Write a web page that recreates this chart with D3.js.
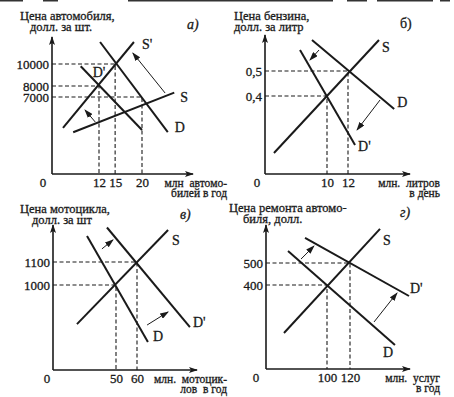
<!DOCTYPE html>
<html>
<head>
<meta charset="utf-8">
<script src="https://cdn.jsdelivr.net/npm/d3@7"></script>
<style>
  body { margin: 0; background: #fff; }
  text { font-family: "Liberation Serif", serif; fill: #1a1a1a; stroke: #1a1a1a; stroke-width: 0.3px; }
  .title { font-size: 12.5px; }
  .xlab { font-size: 11.5px; }
</style>
</head>
<body>
<div id="chart"></div>
<script>
// а) автомобили
var aPriceTicks = [7000, 8000, 10000];
var aQtyTicks = [12, 15, 20];
var aGuides = [[12, 8000], [15, 10000], [20, 7000]];
var aCurves = [
  { name: "S'", from: [5.3, 4200], to: [18.5, 12000] },
  { name: "S", from: [7.2, 3800], to: [26, 7400] },
  { name: "D", from: [12.2, 12000], to: [24.8, 3800] },
  { name: "D'", from: [8.6, 9800], to: [20, 4000] }
];
var aShifts = [[[24.3, 7360], [18.3, 11000]], [[11.3, 4730], [9.4, 5820]]];

// б) бензин
var bPriceTicks = [0.4, 0.5];
var bQtyTicks = [10, 12];
var bGuides = [[10, 0.4], [12, 0.5]];
var bCurves = [
  { name: "S", from: [4.95, 0.172], to: [14.95, 0.624] },
  { name: "D", from: [8.57, 0.624], to: [16.4, 0.348] },
  { name: "D'", from: [7.43, 0.584], to: [12.67, 0.204] }
];
var bShifts = [[[9.24, 0.584], [8.38, 0.544]], [[15.05, 0.384], [12.86, 0.264]]];

// в) мотоциклы
var cPriceTicks = [1000, 1100];
var cQtyTicks = [50, 60];
var cGuides = [[50, 1000], [60, 1100]];
var cCurves = [
  { name: "S", from: [31.4, 830], to: [74.8, 1239] },
  { name: "D", from: [36.2, 1213], to: [65.2, 752] },
  { name: "D'", from: [45.7, 1250], to: [85.2, 817] }
];
var cShifts = [[[43.3, 1157], [48.6, 1196]], [[64.8, 826], [74.8, 883]]];

// г) ремонт автомобилей
var dPriceTicks = [400, 500];
var dQtyTicks = [100, 120];
var dGuides = [[100, 400], [120, 500]];
var dCurves = [
  { name: "S", from: [62.6, 182], to: [146.1, 655] },
  { name: "D", from: [66.1, 555], to: [159.1, 127] },
  { name: "D'", from: [80.9, 614], to: [171.3, 350] }
];
var dShifts = [[[77.4, 518], [88.7, 577]], [[140.9, 232], [160.9, 364]]];

var width = 454, height = 397;

var svg = d3.select('#chart').append('svg')
    .attr('width', width)
    .attr('height', height);

var defs = svg.append('defs');
defs.append('marker')
    .attr('id', 'head')
    .attr('markerUnits', 'userSpaceOnUse')
    .attr('markerWidth', 9).attr('markerHeight', 6)
    .attr('refX', 8).attr('refY', 3)
    .attr('orient', 'auto')
  .append('path').attr('d', 'M0,0 L9,3 L0,6 z').attr('fill', '#1a1a1a');
defs.append('marker')
    .attr('id', 'axhead')
    .attr('markerUnits', 'userSpaceOnUse')
    .attr('markerWidth', 9).attr('markerHeight', 6)
    .attr('refX', 8).attr('refY', 3)
    .attr('orient', 'auto')
  .append('path').attr('d', 'M0,0 L9,3 L0,6 L2,3 z').attr('fill', '#1a1a1a');

var fmtComma = function(d) { return String(d).replace('.', ','); };

// scan edge at the top
svg.selectAll('rect.edge').data([[0, 23], [43, 58], [128, 333], [347, 367], [377, 433], [440, 450]])
  .enter().append('rect')
    .attr('x', function(d) { return d[0]; })
    .attr('y', 0)
    .attr('width', function(d) { return d[1] - d[0]; })
    .attr('height', 1.5)
    .attr('fill', '#333');

var panels = [
  { ox: 52, oy: 174, top: 37, right: 193,
    qt: aQtyTicks, pt: aPriceTicks, qPx: [99, 142], pPx: [174, 64], pDom: [0, 10000],
    guides: aGuides, curves: aCurves, shifts: aShifts, fmt: String,
    title: ['Цена автомобиля,', 'долл. за шт.'], titleX: [20, 30], titleY: 20,
    letter: 'а)', letterX: 187, letterY: 29, italic: true,
    xlab: ['млн  автомо-', 'билей в год'], xlabX: 227, zeroX: 43,
    labelOff: { "S'": [[1], 8, 2], "S": [[1], 6, 4], "D": [[1], 7, -5], "D'": [[0], 12, 6] } },
  { ox: 265, oy: 174, top: 35, right: 410,
    qt: bQtyTicks, pt: bPriceTicks, qPx: [327, 348], pPx: [96, 71], pDom: [0.4, 0.5],
    guides: bGuides, curves: bCurves, shifts: bShifts, fmt: fmtComma,
    title: ['Цена бензина,', 'долл. за литр'], titleX: [234, 234], titleY: 20,
    letter: 'б)', letterX: 400, letterY: 28, italic: false,
    xlab: ['млн.  литров', 'в день'], xlabX: 440, zeroX: 257,
    labelOff: { "S": [[1], 3, 7], "D": [[1], 3, -7], "D'": [[1], 3, 1] } },
  { ox: 53, oy: 370, top: 225, right: 197,
    qt: cQtyTicks, pt: cPriceTicks, qPx: [116, 137], pPx: [285, 262], pDom: [1000, 1100],
    guides: cGuides, curves: cCurves, shifts: cShifts, fmt: String,
    title: ['Цена мотоцикла,', 'долл. за шт'], titleX: [20, 32], titleY: 213,
    letter: 'в)', letterX: 180, letterY: 219, italic: true,
    xlab: ['млн.  мотоцик-', 'лов  в год'], xlabX: 227, zeroX: 47,
    labelOff: { "S": [[1], 4, 10], "D": [[1], 5, -6], "D'": [[1], 3, -5] } },
  { ox: 266, oy: 369, top: 225, right: 410,
    qt: dQtyTicks, pt: dPriceTicks, qPx: [327, 350], pPx: [285, 263], pDom: [400, 500],
    guides: dGuides, curves: dCurves, shifts: dShifts, fmt: String,
    title: ['Цена ремонта автомо-', 'биля, долл.'], titleX: [229, 243], titleY: 212,
    letter: 'г)', letterX: 400, letterY: 217, italic: true,
    xlab: ['млн.  услуг', 'в год'], xlabX: 440, zeroX: 256,
    labelOff: { "S": [[1], 3, 11], "D": [[1], -12, 7], "D'": [[1], 1, -8] } }
];

panels.forEach(function(p) {
  var x = d3.scaleLinear().domain([p.qt[0], p.qt[p.qt.length - 1]]).range(p.qPx);
  var y = d3.scaleLinear().domain(p.pDom).range(p.pPx);
  var g = svg.append('g');

  // dashed guides
  p.guides.forEach(function(d) {
    g.append('path')
      .attr('d', 'M' + p.ox + ',' + y(d[1]) + 'H' + x(d[0]) + 'V' + p.oy)
      .attr('fill', 'none')
      .attr('stroke', '#1a1a1a')
      .attr('stroke-width', 1.1)
      .attr('stroke-dasharray', '4,2.5');
  });

  // axes
  g.append('line')
    .attr('x1', p.ox).attr('y1', p.oy).attr('x2', p.ox).attr('y2', p.top)
    .attr('stroke', '#1a1a1a').attr('stroke-width', 1.6)
    .attr('marker-end', 'url(#axhead)');
  g.append('line')
    .attr('x1', p.ox).attr('y1', p.oy).attr('x2', p.right).attr('y2', p.oy)
    .attr('stroke', '#1a1a1a').attr('stroke-width', 1.6)
    .attr('marker-end', 'url(#axhead)');

  var ya = g.append('g')
    .attr('transform', 'translate(' + p.ox + ',0)')
    .call(d3.axisLeft(y).tickValues(p.pt).tickFormat(p.fmt).tickSize(0).tickPadding(3));
  ya.select('.domain').remove();
  var xa = g.append('g')
    .attr('transform', 'translate(0,' + p.oy + ')')
    .call(d3.axisBottom(x).tickValues(p.qt).tickFormat(p.fmt).tickSize(0).tickPadding(4));
  xa.select('.domain').remove();
  g.selectAll('.tick text')
    .attr('fill', '#1a1a1a')
    .style('font-family', '"Liberation Serif", serif')
    .style('font-size', '13px');

  g.append('text')
    .attr('x', p.zeroX).attr('y', p.oy + 13)
    .attr('text-anchor', 'middle')
    .style('font-size', '13px')
    .text('0');

  // curves
  g.selectAll('line.curve').data(p.curves).enter().append('line')
    .attr('x1', function(d) { return x(d.from[0]); })
    .attr('y1', function(d) { return y(d.from[1]); })
    .attr('x2', function(d) { return x(d.to[0]); })
    .attr('y2', function(d) { return y(d.to[1]); })
    .attr('stroke', '#1a1a1a')
    .attr('stroke-width', 2);

  g.selectAll('text.lab').data(p.curves).enter().append('text')
    .attr('x', function(d) {
      var o = p.labelOff[d.name]; var pt = o[0][0] ? d.to : d.from;
      return x(pt[0]) + o[1];
    })
    .attr('y', function(d) {
      var o = p.labelOff[d.name]; var pt = o[0][0] ? d.to : d.from;
      return y(pt[1]) + o[2];
    })
    .attr('dy', '0.35em')
    .style('font-size', '14px')
    .text(function(d) { return d.name; });

  // shift arrows
  g.selectAll('line.shift').data(p.shifts).enter().append('line')
    .attr('x1', function(d) { return x(d[0][0]); })
    .attr('y1', function(d) { return y(d[0][1]); })
    .attr('x2', function(d) { return x(d[1][0]); })
    .attr('y2', function(d) { return y(d[1][1]); })
    .attr('stroke', '#1a1a1a')
    .attr('stroke-width', 1)
    .attr('marker-end', 'url(#head)');

  // titles (two lines in one text)
  var tt = g.append('text').attr('class', 'title').attr('y', p.titleY);
  p.title.forEach(function(t, i) {
    tt.append('tspan')
      .attr('x', p.titleX[i])
      .attr('dy', i ? 10.5 : 0)
      .text(t);
  });
  g.append('text').attr('class', 'title')
    .attr('x', p.letterX).attr('y', p.letterY)
    .style('font-style', p.italic ? 'italic' : 'normal')
    .style('font-size', '14px')
    .text(p.letter);

  var xl = g.append('text').attr('class', 'xlab')
    .attr('y', p.oy + 13)
    .attr('text-anchor', 'end')
    .style('white-space', 'pre');
  p.xlab.forEach(function(t, i) {
    xl.append('tspan')
      .attr('x', p.xlabX)
      .attr('dy', i ? 10 : 0)
      .text(t);
  });
});
</script>
</body>
</html>
